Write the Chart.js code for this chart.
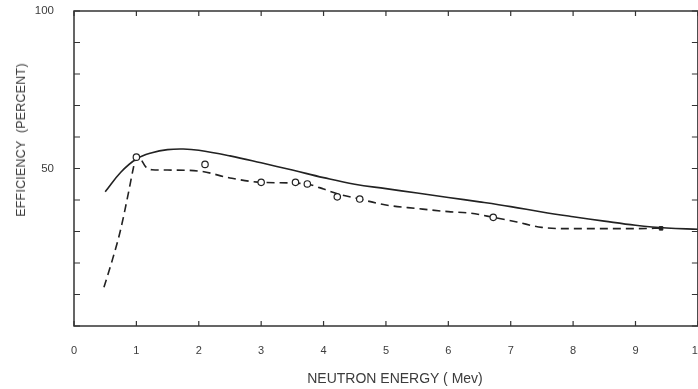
<!DOCTYPE html>
<html>
<head>
<meta charset="utf-8">
<script src="https://cdn.jsdelivr.net/npm/chart.js@4.4.0/dist/chart.umd.min.js"></script>
<style>
html, body { margin: 0; padding: 0; background: #fff; overflow: hidden; }
#wrap { position: relative; width: 714px; height: 389px; }
.axis-title { position: absolute; font-family: "Liberation Sans", Arial, sans-serif; color: #3c3c3c; white-space: nowrap; }
#yTitle { left: 21px; top: 140px; font-size: 12.5px; letter-spacing: 0.2px; transform: translate(-50%, -50%) rotate(-90deg); }
#xTitle { left: 395px; top: 378px; font-size: 14px; transform: translate(-50%, -50%); }
</style>
</head>
<body>
<div id="wrap">
  <canvas id="chart" width="714" height="389"></canvas>
  <div id="yTitle" class="axis-title">EFFICIENCY&nbsp; (PERCENT)</div>
  <div id="xTitle" class="axis-title">NEUTRON ENERGY ( Mev)</div>
</div>
<script>
// ---------- Data ----------
const solidEnergy = [0.5, 0.75, 1.0, 1.25, 1.5, 1.75, 2.0, 2.5, 3.0, 3.5, 4.0, 4.5, 5.0, 5.5, 6.0, 6.5, 7.0, 7.5, 8.0, 8.5, 9.0, 9.5, 10.0];
const solidEff    = [42.6, 48.8, 53.0, 55.0, 56.0, 56.2, 55.8, 54.0, 51.8, 49.5, 47.1, 45.0, 43.6, 42.2, 40.8, 39.4, 37.9, 36.2, 34.7, 33.3, 32.0, 31.1, 30.7];

const dashEnergy = [0.48, 0.6, 0.74, 0.87, 0.95, 1.0, 1.07, 1.15, 1.25, 1.5, 2.0, 2.5, 3.0, 3.5, 3.75, 4.0, 4.22, 4.58, 5.0, 5.5, 6.0, 6.36, 6.72, 7.1, 7.5, 8.0, 9.0, 9.45];
const dashEff    = [12.3, 20.0, 30.0, 42.0, 50.0, 54.0, 53.0, 50.5, 49.6, 49.5, 49.2, 47.0, 45.6, 45.4, 45.0, 43.5, 42.0, 40.3, 38.4, 37.3, 36.3, 35.8, 34.5, 33.0, 31.3, 30.9, 30.9, 31.1];

const pointEnergy = [1.0, 2.1, 3.0, 3.55, 3.74, 4.22, 4.58, 6.72];
const pointEff    = [53.6, 51.3, 45.6, 45.6, 45.1, 41.0, 40.3, 34.5];

const filledEnergy = [9.41];
const filledEff    = [31.0];

const xTickValues = [0, 1, 2, 3, 4, 5, 6, 7, 8, 9, 10];
const yLabelValues = [50, 100];

const INK = '#222';
const TEXT = '#3c3c3c';
const FONT = '"Liberation Sans", Arial, sans-serif';

const pairs = (xs, ys) => xs.map((x, i) => ({ x, y: ys[i] }));

// frame + inward tick marks, placed through the chart's scales
const framePlugin = {
  id: 'frame',
  afterDraw(chart) {
    const { ctx, chartArea: a, scales } = chart;
    ctx.save();
    ctx.strokeStyle = '#333';
    ctx.lineWidth = 1.5;
    ctx.strokeRect(a.left, a.top, a.right - a.left, a.bottom - a.top);
    ctx.lineWidth = 1.2;
    ctx.beginPath();
    scales.x.ticks.forEach(t => {
      const px = scales.x.getPixelForValue(t.value);
      ctx.moveTo(px, a.bottom); ctx.lineTo(px, a.bottom - 5);
      ctx.moveTo(px, a.top); ctx.lineTo(px, a.top + 5);
    });
    scales.y.ticks.forEach(t => {
      const py = scales.y.getPixelForValue(t.value);
      ctx.moveTo(a.left, py); ctx.lineTo(a.left + 6, py);
      ctx.moveTo(a.right, py); ctx.lineTo(a.right - 6, py);
    });
    ctx.stroke();
    ctx.restore();
  }
};

new Chart(document.getElementById('chart'), {
  type: 'line',
  data: {
    datasets: [
      { label: 'measured', data: pairs(pointEnergy, pointEff), showLine: false, pointRadius: 3.2,
        pointBackgroundColor: '#fff', pointBorderColor: INK, pointBorderWidth: 1.2, order: 0 },
      { label: 'end', data: pairs(filledEnergy, filledEff), showLine: false, pointRadius: 2.5, pointStyle: 'rect',
        pointBackgroundColor: INK, pointBorderColor: INK, order: 1 },
      { label: 'calculated', data: pairs(solidEnergy, solidEff), borderColor: INK, borderWidth: 1.6,
        pointRadius: 0, tension: 0.4, fill: false, order: 2 },
      { label: 'experimental', data: pairs(dashEnergy, dashEff), borderColor: INK, borderWidth: 1.6,
        borderDash: [8, 5], pointRadius: 0, cubicInterpolationMode: 'monotone', fill: false, order: 3 }
    ]
  },
  options: {
    responsive: false,
    animation: false,
    devicePixelRatio: 1,
    layout: { padding: { top: 11, right: 16, left: 0, bottom: 0 } },
    plugins: { legend: { display: false }, tooltip: { enabled: false } },
    scales: {
      x: {
        type: 'linear', min: 0, max: 10,
        grid: { display: false }, border: { display: false },
        afterBuildTicks: s => { s.ticks = xTickValues.map(v => ({ value: v })); },
        ticks: { autoSkip: false, maxRotation: 0, color: TEXT, padding: 10, font: { family: FONT, size: 11 } },
        afterFit: s => { s.height = 63; }
      },
      y: {
        min: 0, max: 100,
        grid: { display: false }, border: { display: false },
        ticks: { stepSize: 10, autoSkip: false, color: TEXT, padding: 12, font: { family: FONT, size: 11.5 },
          callback: v => yLabelValues.includes(v) ? String(v) : '' },
        afterFit: s => { s.width = 74; s.paddingTop = 0; s.paddingBottom = 0; }
      }
    }
  },
  plugins: [framePlugin]
});
</script>
</body>
</html>
